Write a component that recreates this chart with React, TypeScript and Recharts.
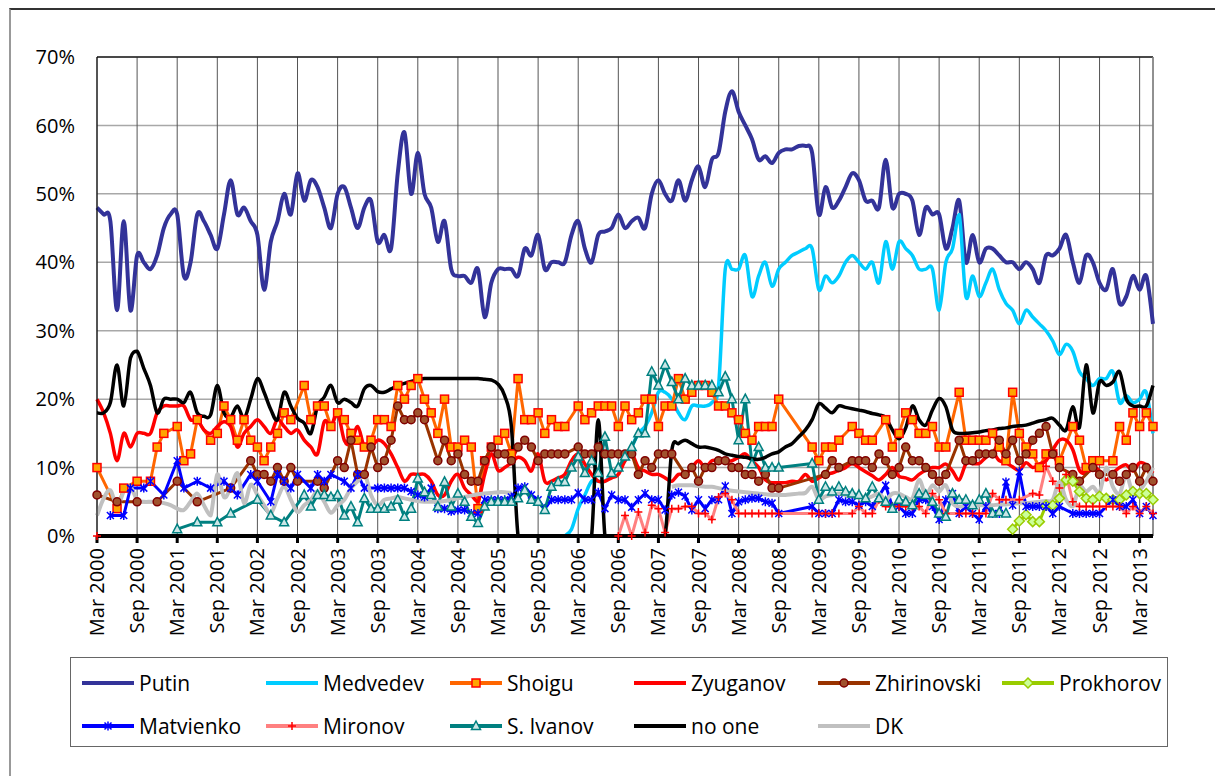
import React from 'react';
import { LineChart, Line, XAxis, YAxis, CartesianGrid, ReferenceLine } from 'recharts';

const FONT = '"Open Sans", sans-serif';
const _ = null;

// x = month index, 0 = Mar 2000 ... 158 = May 2013
const monthCount = 159;
const tickMonths = [0, 6, 12, 18, 24, 30, 36, 42, 48, 54, 60, 66, 72, 78, 84, 90, 96, 102, 108, 114, 120, 126, 132, 138, 144, 150, 156];
const tickLabels = [
  'Mar 2000', 'Sep 2000', 'Mar 2001', 'Sep 2001', 'Mar 2002', 'Sep 2002', 'Mar 2003', 'Sep 2003', 'Mar 2004',
  'Sep 2004', 'Mar 2005', 'Sep 2005', 'Mar 2006', 'Sep 2006', 'Mar 2007', 'Sep 2007', 'Mar 2008', 'Sep 2008',
  'Mar 2009', 'Sep 2009', 'Mar 2010', 'Sep 2010', 'Mar 2011', 'Sep 2011', 'Mar 2012', 'Sep 2012', 'Mar 2013',
];
const percentTicks = [0, 10, 20, 30, 40, 50, 60, 70];

// monthly series (smoothed lines)
const putin = [
  48, 47, 46, 33, 46, 33, 41, 40, 39, 41,
  45, 47, 47, 38, 40, 47, 46, 44, 42, 47,
  52, 47, 48, 46, 44, 36, 43, 46, 50, 47,
  53, 49, 52, 51, 48, 45, 50, 51, 48, 45,
  48, 49, 43, 44, 42, 53, 59, 50, 56, 50,
  48, 43, 46, 39, 38, 38, 37, 39, 32, 37,
  39, 39, 39, 38, 42, 41, 44, 39, 40, 40,
  40, 44, 46, 42, 40, 44, 44.5, 45, 47, 45,
  46, 46.5, 45, 50, 52, 50, 49, 52, 49, 52,
  54, 51, 55, 56, 62, 65, 62, 60, 58, 55,
  55.5, 54.5, 56, 56.5, 56.5, 57, 57, 56, 47, 51,
  48, 49, 51, 53, 52, 49, 49, 48, 55, 48,
  50, 50, 49, 44, 48, 47, 47, 42, 45, 49,
  40, 44, 40, 42, 42, 41, 40, 40, 39, 40,
  39, 37, 41, 41, 42, 44, 40, 37, 41, 40,
  37, 36, 39, 34, 35, 38, 36, 38, 31,
];

const medvedevStart = 70;
const medvedev = [
  0, 1, 4, 6, 8, 8, 8, 9, 10, 11,
  13, 15, 16, 18, 21, 21, 20, 18, 17, 19,
  19, 19, 19.5, 22, 39, 39, 39, 41, 35, 38,
  40, 36.5, 39, 40, 41, 41.5, 42, 42, 36, 38,
  37, 38, 40, 41, 40, 39, 40, 37, 43, 39,
  43, 42, 41, 39, 39, 39, 33, 40, 42, 47,
  35, 38, 35, 37, 39, 36, 34, 33, 31, 33,
  32, 31, 30, 28.5, 26.5, 28, 27, 24, 23, 22,
  23, 23, 24, 19.5, 20.5, 19.5, 20, 21, 15,
];

const zyuganov = [
  20, 18, 15, 11, 15, 13, 15, 15, 15, 18,
  19, 19, 19, 19, 17, 17, 15.5, 15, 16, 16.7,
  16, 13, 15, 16, 17, 16, 15, 17, 16, 15,
  15.5, 14, 13, 12, 16.7, 16, 18, 14, 13.5, 16,
  13, 13, 14, 13.5, 12, 10, 8, 9, 9, 9,
  8, 6, 6, 8, 9, 7, 6, 5, 9, 12,
  9.6, 10, 10.7, 11.5, 11, 9.5, 12, 8, 8, 8.5,
  9, 11, 12, 10.5, 9, 8, 8, 8.5, 9, 11,
  12, 10, 9.5, 9, 9, 8.5, 8, 9, 9, 10,
  11, 10, 11, 11, 11, 11, 11.5, 12, 11, 10,
  8.2, 7.8, 7.8, 7.8, 8, 8, 9, 8, 8.5, 9,
  9.2, 9.6, 10, 10.6, 10, 9.4, 8.8, 8.2, 9, 10,
  8.7, 8.5, 8.2, 9, 9.6, 10, 10, 10.5, 9.5, 8.2,
  10.5, 10.6, 10.6, 11.5, 12.2, 11, 10.7, 10.1, 9.6, 10.7,
  10, 10.5, 11, 12.6, 14, 14, 12.6, 9.6, 9.2, 10.1,
  9.5, 8.2, 9.2, 10, 10.4, 9.5, 10.7, 10.4, 9.2,
];

const noOne = [
  18, 18, 19.5, 25, 19, 26, 27, 24.5, 22, 18,
  20, 20, 20, 19.5, 21, 18, 17.5, 17.7, 22, 18,
  17.4, 19, 17.2, 20, 23, 21, 18.5, 17, 21, 19,
  17.2, 16.5, 15, 19, 20.3, 22, 19.5, 20, 19.5, 19,
  21.5, 22, 21.1, 21, 21.5, 22, 22.3, 22.6, 22.8, 23,
  23, 23, 23, 23, 23, 23, 23, 23, 22.9, 22.8,
  22.2, 20.5, 16, 0, 0, 0, 0, 0, 0, 0,
  0, 0, 0, 0, 0, 17, 0, 0, 0, 0,
  0, 0, 0, 0, 0, 0, 12.5, 13.5, 14, 13.5,
  13, 13, 12.8, 12.5, 12, 11.8, 11.6, 11.5, 11.3, 11.2,
  11.5, 12, 12.3, 13, 13.5, 14.5, 15.5, 17, 19.3, 18.7,
  18, 19, 18.8, 18.6, 18.4, 18.2, 17.9, 17.7, 17.3, 15.5,
  14.2, 15.8, 19, 17, 16.2, 18.4, 20.1, 18.9, 15.5, 15,
  15, 15.1, 15.2, 15.4, 15.5, 15.7, 15.8, 16, 16.1, 16.2,
  16.5, 16.8, 17, 17.2, 16.2, 15.5, 18.9, 15.9, 25, 18,
  22.5, 22, 22.5, 24, 20, 19, 19, 19, 22,
];

const dk = [
  3, 5.5, 6.7, 4.3, 6.5, 7.2, 5.3, 5, 5, 5,
  4.8, 4.5, 4, 3.8, 5, 6.2, 4.5, 3, 9, 5.7,
  7, 9.2, 4.8, 7.5, 6, 4.5, 3.3, 5.5, 7.2, 5.3,
  3.5, 4.5, 5.3, 6.5, 5, 3.4, 4.5, 5.3, 7, 8,
  9.2, 6, 4.5, 5.3, 5.5, 5.7, 5.5, 5.3, 5.1, 5,
  5, 5, 5.1, 5.3, 5.5, 5.7, 5.9, 6.1, 6.2, 6.3,
  6.4, 6.4, 6.3, _, _, _, _, _, _, _,
  _, _, _, _, _, _, _, _, _, _,
  _, _, _, _, _, _, 7.2, 7.4, 7.4, 7.4,
  7.3, 7.2, 7.2, 7, 6.8, 6.6, 6.5, 6.4, 6.3, 6.2,
  6.1, 6, 6, 6, 6.1, 6.2, 6.3, 7.2, 5.3, 5.8,
  6, 6.2, 6, 5.7, 6, 5.5, 5.8, 6.2, 5.3, 6.2,
  6.2, 5.7, 5.5, 8.2, 6, 7.4, 6.5, 7.4, 4.8, 4.3,
  4.4, 4.5, 4.5, 4.5, 4.5, 4.6, 4.6, 4.7, 4.8, 4.8,
  4.9, 5, 5.1, 5.3, 7.9, 5.3, 4.3, 7.2, 6.5, 7.2,
  6.4, 10, 7.2, 6.2, 8.9, 6.2, 6.7, 8, 10,
];

// polled series: [month index, %]
const shoigu: [number, number][] = [
  [0, 10], [3, 4], [4, 7], [6, 8], [8, 8], [9, 13], [10, 15], [12, 16], [13, 11], [14, 12], [15, 17], [17, 14],
  [18, 15], [19, 19], [20, 17], [21, 14], [22, 17], [23, 14], [24, 13], [25, 11], [26, 13], [27, 15], [28, 18],
  [29, 17], [31, 22], [32, 17], [33, 19], [34, 19], [35, 16], [36, 18], [37, 17], [38, 15], [39, 14], [40, 13],
  [41, 14], [42, 17], [43, 17], [44, 16], [45, 22], [46, 20], [47, 22], [48, 23], [49, 20], [50, 18], [51, 15],
  [52, 20], [53, 13], [54, 13], [55, 14], [56, 13], [57, 4], [58, 11], [59, 13], [60, 14], [61, 15], [62, 12],
  [63, 23], [64, 17], [65, 17], [66, 18], [67, 15], [68, 17], [69, 16], [70, 16], [72, 19], [73, 17], [74, 18],
  [75, 19], [76, 19], [77, 19], [78, 16], [79, 19], [80, 17], [81, 18], [82, 20], [83, 20], [84, 16], [85, 19],
  [86, 19], [87, 23], [88, 20], [89, 21], [90, 22], [91, 22], [92, 21], [93, 19], [94, 19], [95, 18], [96, 17],
  [97, 15], [98, 14], [99, 16], [100, 16], [101, 16], [102, 20], [107, 13], [108, 11], [109, 13], [110, 13],
  [111, 14], [113, 16], [114, 15], [115, 14], [116, 14], [118, 17], [119, 13], [120, 15], [121, 18], [122, 17],
  [123, 15], [124, 15], [125, 16], [126, 13], [127, 13], [129, 21], [130, 14], [131, 14], [132, 14], [133, 14],
  [134, 15], [135, 13], [136, 11], [137, 21], [138, 15], [139, 13], [140, 12], [141, 10], [142, 12], [143, 12],
  [144, 11], [146, 16], [147, 14], [148, 10], [149, 11], [150, 11], [152, 11], [153, 16], [154, 14], [155, 18],
  [156, 16], [157, 18], [158, 16],
];

const zhirinovski: [number, number][] = [
  [0, 6], [3, 5], [6, 5], [9, 5], [12, 8], [15, 5], [20, 7], [23, 11], [24, 9], [25, 9], [26, 8], [27, 10],
  [28, 8], [29, 10], [30, 8], [33, 8], [34, 7], [36, 11], [37, 10], [38, 14], [39, 9], [40, 9], [41, 13],
  [42, 10], [43, 11], [44, 14], [45, 19], [46, 17], [47, 17], [48, 18], [49, 17], [51, 11], [52, 14], [53, 11],
  [54, 12], [55, 9], [56, 8], [57, 8], [58, 11], [59, 13], [60, 12], [61, 12], [62, 11], [63, 13], [64, 14],
  [65, 13], [66, 11], [67, 12], [68, 12], [69, 12], [70, 12], [72, 13], [73, 12], [74, 12], [75, 13], [76, 12],
  [77, 12], [78, 12], [79, 12], [80, 12], [81, 9], [82, 11], [83, 10], [84, 12], [85, 12], [86, 12], [88, 9],
  [89, 10], [90, 8], [91, 10], [92, 10], [93, 11], [94, 11], [95, 10], [96, 10], [97, 9], [98, 9], [99, 8],
  [100, 9], [101, 7], [102, 7], [109, 9], [110, 11], [111, 10], [113, 11], [114, 11], [115, 11], [116, 10],
  [117, 12], [118, 11], [119, 9], [120, 10], [121, 13], [122, 11], [123, 11], [124, 10], [125, 9], [126, 8],
  [127, 9], [129, 14], [130, 11], [131, 11], [132, 12], [133, 12], [134, 12], [135, 14], [136, 12], [137, 14],
  [138, 11], [139, 12], [140, 14], [141, 15], [142, 16], [143, 12], [144, 10], [146, 9], [147, 8], [149, 10],
  [150, 9], [152, 9], [153, 8], [154, 9], [155, 10], [156, 8], [157, 10], [158, 8],
];

const prokhorov: [number, number][] = [
  [137, 1], [138, 2.2], [139, 3.1], [140, 2.1], [141, 2.1], [142, 4.5], [143, 4.5], [144, 5.5], [145, 8.2],
  [146, 8], [147, 6.5], [148, 5.5], [149, 5.3], [150, 5.8], [151, 5.5], [152, 5.3], [153, 5.3], [154, 6],
  [155, 6.5], [156, 6.2], [157, 6.2], [158, 5.3],
];

const matvienko: [number, number][] = [
  [2, 3], [4, 3], [5, 7], [7, 7], [8, 8], [10, 6], [12, 11], [13, 7], [15, 8], [17, 7], [19, 8], [20, 7],
  [21, 6], [23, 9], [24, 8], [26, 5], [27, 9], [28, 8], [29, 7], [30, 9], [32, 7], [33, 9], [34, 8], [35, 9],
  [37, 8], [38, 7], [39, 9], [40, 7], [42, 7], [43, 7], [44, 7], [45, 7], [46, 7], [47, 6.5], [48, 6],
  [49, 5.7], [50, 7], [51, 4], [52, 4], [53, 3.6], [54, 3.8], [55, 3.8], [56, 3.3], [57, 3.3], [58, 5.3],
  [59, 5.3], [60, 5.3], [61, 5.3], [62, 5.7], [63, 7], [64, 7.2], [65, 6], [66, 5.3], [67, 4], [68, 5.3],
  [69, 5.3], [70, 5.3], [71, 5.3], [72, 6.3], [73, 5.3], [74, 5.3], [75, 6.4], [76, 4], [77, 6], [78, 5.3],
  [79, 5.3], [80, 4.2], [81, 5.3], [82, 6.2], [83, 5.3], [84, 5.3], [85, 3.8], [86, 6], [87, 6.4], [88, 5.8],
  [89, 3.8], [90, 5.3], [91, 4], [92, 5.3], [93, 5.3], [94, 7.3], [95, 3.3], [96, 5], [97, 5.3], [98, 5.5],
  [99, 5.5], [100, 5], [101, 4.8], [102, 3.3], [107, 4.3], [108, 3.3], [109, 3.3], [110, 3.3], [111, 5.3],
  [112, 5], [113, 5], [114, 4.5], [115, 5], [116, 4.3], [118, 7.4], [119, 4.3], [120, 4.3], [121, 3.3],
  [122, 3.3], [123, 5.3], [124, 5.3], [125, 4.3], [126, 2.4], [127, 5.3], [128, 6.2], [129, 3.3], [130, 4.3],
  [131, 3.3], [132, 2.4], [133, 4.3], [134, 3.3], [135, 3.3], [136, 7.9], [137, 4.5], [138, 9.4], [139, 4.3],
  [140, 4.3], [141, 4.3], [142, 4.3], [143, 3.3], [144, 4.3], [146, 3.3], [147, 3.3], [148, 3.3], [149, 3.3],
  [150, 3.3], [152, 5.3], [153, 4.3], [154, 4.3], [155, 5.3], [156, 3.3], [157, 4.3], [158, 3],
];

const mironovEarly: [number, number][] = [[0, 0]];
const mironov: [number, number][] = [
  [78, 0], [79, 3], [80, 0], [81, 3.5], [82, 0.5], [83, 4.5], [84, 4], [85, 0.5], [86, 4], [87, 4], [88, 4.3],
  [89, 4.3], [90, 3.3], [91, 3.3], [92, 2.4], [93, 5.7], [94, 6.2], [95, 5.3], [96, 3.3], [97, 3.3], [98, 3.3],
  [99, 3.3], [100, 3.3], [101, 3.3], [102, 3.3], [107, 3.3], [108, 3.3], [109, 3.3], [110, 3.3], [111, 3.3],
  [113, 3.3], [114, 4.3], [115, 3.3], [116, 3.3], [117, 5.3], [118, 4.3], [119, 4.3], [120, 4.3], [121, 4.3],
  [122, 4.3], [123, 4.3], [124, 3.3], [125, 6.2], [126, 5.3], [127, 3.3], [129, 3.3], [130, 3.3], [131, 3.3],
  [132, 3.3], [133, 3.3], [134, 6.2], [135, 5.3], [136, 5.3], [138, 5.3], [140, 6.2], [141, 6], [142, 10.2],
  [143, 8], [144, 7], [145, 9], [146, 5], [147, 4.3], [148, 4.3], [149, 4.3], [150, 4.3], [151, 4.3], [152, 4.3],
  [153, 4.3], [154, 3.3], [155, 4.3], [156, 3.3], [157, 4.3], [158, 3.3],
];

const sIvanov: [number, number][] = [
  [12, 1], [15, 2], [18, 2], [20, 3.3], [24, 5.3], [26, 3], [28, 2], [31, 6], [32, 4.3], [33, 6], [34, 6],
  [35, 5.7], [36, 6], [37, 3], [38, 4.3], [39, 2], [40, 5.5], [41, 4], [42, 4], [43, 4], [44, 4.3], [45, 5.3],
  [46, 2.8], [47, 4], [48, 8.4], [49, 6.4], [50, 6], [51, 4.3], [52, 7.9], [53, 4.3], [54, 6.2], [55, 5],
  [56, 2.8], [57, 1.9], [58, 4.3], [59, 5], [60, 5], [61, 5], [62, 5], [63, 5.5], [64, 6.7], [65, 5.3], [66, 5],
  [67, 3.8], [68, 7.2], [69, 7.9], [70, 7.9], [71, 10], [72, 11.6], [73, 9.2], [74, 11], [75, 9.2], [76, 14.5],
  [77, 9.2], [78, 10], [79, 11.6], [80, 13], [81, 15], [82, 15], [83, 24], [84, 22], [85, 25], [86, 22.5],
  [87, 20], [88, 23], [89, 22], [90, 22], [91, 22], [92, 22], [93, 21], [94, 23.3], [95, 20], [96, 14], [97, 20],
  [98, 10.5], [99, 13], [100, 10], [101, 10], [102, 10], [107, 10.6], [108, 5.3], [109, 7.2], [110, 6.5],
  [111, 7.2], [112, 6.5], [113, 6.2], [114, 6], [115, 5.5], [116, 7.2], [117, 5.5], [118, 5], [119, 4],
  [120, 5.3], [121, 5], [122, 4.5], [123, 6.2], [124, 6], [125, 5], [126, 3.3], [127, 2.8], [128, 6.2],
  [129, 5.3], [130, 5.3], [131, 4.5], [132, 5.3], [133, 6.2], [134, 3.3], [135, 3.5], [136, 3.3],
];

// Excel-style smoothed line (Catmull-Rom through the points),
// control points kept inside the series' own vertical range so it never dips under the axis
const excelSmooth: any = (context: any) => {
  let pts: number[][] = [];
  return {
    areaStart() {},
    areaEnd() {},
    lineStart() { pts = []; },
    point(x: number, y: number) { pts.push([+x, +y]); },
    lineEnd() {
      const n = pts.length;
      if (!n) return;
      const ys = pts.map((p) => p[1]);
      const lo = Math.min(...ys);
      const hi = Math.max(...ys);
      const cy = (v: number) => Math.min(hi, Math.max(lo, v));
      context.moveTo(pts[0][0], pts[0][1]);
      if (n === 1) { context.lineTo(pts[0][0], pts[0][1]); return; }
      for (let i = 0; i < n - 1; i++) {
        const p0 = pts[i > 0 ? i - 1 : i];
        const p1 = pts[i];
        const p2 = pts[i + 1];
        const p3 = pts[i + 2 < n ? i + 2 : i + 1];
        context.bezierCurveTo(
          p1[0] + (p2[0] - p0[0]) / 6, cy(p1[1] + (p2[1] - p0[1]) / 6),
          p2[0] - (p3[0] - p1[0]) / 6, cy(p2[1] - (p3[1] - p1[1]) / 6),
          p2[0], p2[1],
        );
      }
    },
  };
};

type Mark = (cx: number, cy: number) => React.ReactElement;

const squareMark: Mark = (cx, cy) => (
  <rect x={cx - 4} y={cy - 4} width={8} height={8} fill="#FFA500" stroke="#FF0000" strokeWidth={1.5} />
);
const circleMark: Mark = (cx, cy) => (
  <circle cx={cx} cy={cy} r={4} fill="#A0522D" stroke="#800000" strokeWidth={1.5} />
);
const diamondMark: Mark = (cx, cy) => (
  <path d={`M${cx} ${cy - 5}L${cx + 5} ${cy}L${cx} ${cy + 5}L${cx - 5} ${cy}Z`} fill="#CCFF99" stroke="#99CC00" strokeWidth={1.5} />
);
const starMark: Mark = (cx, cy) => (
  <path
    d={`M${cx - 3.5} ${cy - 3.5}L${cx + 3.5} ${cy + 3.5}M${cx - 3.5} ${cy + 3.5}L${cx + 3.5} ${cy - 3.5}M${cx} ${cy - 4.5}L${cx} ${cy + 4.5}`}
    stroke="#0000FF" strokeWidth={1.5} fill="none"
  />
);
const plusMark: Mark = (cx, cy) => (
  <path d={`M${cx - 4} ${cy}L${cx + 4} ${cy}M${cx} ${cy - 4}L${cx} ${cy + 4}`} stroke="#FF0000" strokeWidth={1.5} fill="none" />
);
const triangleMark: Mark = (cx, cy) => (
  <path d={`M${cx} ${cy - 5}L${cx + 4.5} ${cy + 3.5}L${cx - 4.5} ${cy + 3.5}Z`} fill="#CCE6E6" stroke="#008080" strokeWidth={1.5} />
);

const dense = (vals: (number | null)[], start = 0) => (m: number) =>
  m >= start && m - start < vals.length ? vals[m - start] : null;
const sparse = (pairs: [number, number][]) => {
  const map = new Map(pairs);
  return (m: number) => (map.has(m) ? (map.get(m) as number) : null);
};

interface Series {
  key: string;
  name: string;
  color: string;
  width: number;
  smooth: boolean;
  connect: boolean;
  mark?: Mark;
  get: (m: number) => number | null;
}

const series: Series[] = [
  { key: 'putin', name: 'Putin', color: '#333399', width: 4, smooth: true, connect: true, get: dense(putin) },
  { key: 'medvedev', name: 'Medvedev', color: '#00CCFF', width: 3.5, smooth: true, connect: true, get: dense(medvedev, medvedevStart) },
  { key: 'shoigu', name: 'Shoigu', color: '#FF6600', width: 3, smooth: false, connect: true, mark: squareMark, get: sparse(shoigu) },
  { key: 'zyuganov', name: 'Zyuganov', color: '#FF0000', width: 3.5, smooth: true, connect: true, get: dense(zyuganov) },
  { key: 'zhirinovski', name: 'Zhirinovski', color: '#993300', width: 3, smooth: false, connect: true, mark: circleMark, get: sparse(zhirinovski) },
  { key: 'prokhorov', name: 'Prokhorov', color: '#99CC00', width: 3, smooth: false, connect: true, mark: diamondMark, get: sparse(prokhorov) },
  { key: 'matvienko', name: 'Matvienko', color: '#0000FF', width: 3, smooth: false, connect: true, mark: starMark, get: sparse(matvienko) },
  { key: 'mironov', name: 'Mironov', color: '#FF8080', width: 3, smooth: false, connect: true, mark: plusMark, get: sparse(mironov) },
  { key: 'sIvanov', name: 'S. Ivanov', color: '#008080', width: 3, smooth: false, connect: true, mark: triangleMark, get: sparse(sIvanov) },
  { key: 'noOne', name: 'no one', color: '#000000', width: 3.5, smooth: true, connect: true, get: dense(noOne) },
  { key: 'dk', name: 'DK', color: '#C0C0C0', width: 4, smooth: true, connect: false, get: dense(dk) },
];

const mironovEarlyAt = sparse(mironovEarly);

const rows = Array.from({ length: monthCount }, (_v, m) => {
  const row: Record<string, number | null> = { m };
  series.forEach((s) => { row[s.key] = s.get(m); });
  row.mironovEarly = mironovEarlyAt(m);
  return row;
});

const dotFor = (mark?: Mark) => {
  if (!mark) return false;
  return (p: any) => {
    const k = p.key ?? `dot-${p.index}`;
    if (p.value == null || p.cy == null || Number.isNaN(p.cy)) return <g key={k} />;
    return <g key={k}>{mark(p.cx, p.cy)}</g>;
  };
};

const MonthTick = ({ x, y, payload }: any) => {
  const label = tickLabels[tickMonths.indexOf(payload.value)] ?? '';
  return (
    <text
      x={x}
      y={y}
      transform={`rotate(-90, ${x}, ${y})`}
      textAnchor="end"
      dy="0.35em"
      fontSize={20}
      fontFamily={FONT}
      fill="#000"
    >
      {label}
    </text>
  );
};

function LegendBox() {
  return (
    <div
      style={{
        position: 'absolute',
        left: 70,
        top: 657,
        width: 1098,
        height: 90,
        border: '1.5px solid #666',
        boxSizing: 'border-box',
      }}
    >
      {series.map((s, i) => {
        const col = i < 6 ? i : i - 6;
        const row = i < 6 ? 0 : 1;
        return (
          <div
            key={s.key}
            style={{
              position: 'absolute',
              left: 11 + col * 184,
              top: (row === 0 ? 25 : 68) - 13,
              height: 26,
              display: 'flex',
              alignItems: 'center',
              whiteSpace: 'nowrap',
            }}
          >
            <svg width={52} height={16} style={{ display: 'block' }}>
              <line x1={0} y1={8} x2={52} y2={8} stroke={s.color} strokeWidth={4} />
              {s.mark ? s.mark(26, 8) : null}
            </svg>
            <span style={{ marginLeft: 5, fontFamily: FONT, fontSize: 21, color: '#000', lineHeight: '26px' }}>
              {s.name}
            </span>
          </div>
        );
      })}
    </div>
  );
}

export default function App() {
  return (
    <div style={{ position: 'absolute', left: 0, top: 0, width: 1215, height: 776, overflow: 'hidden', background: '#fff' }}>
      <div
        style={{
          position: 'absolute',
          left: 9,
          top: 8,
          width: 1206,
          height: 768,
          borderTop: '2px solid #333',
          borderLeft: '2px solid #999',
          boxSizing: 'border-box',
        }}
      />
      <div style={{ position: 'absolute', left: 0, top: 0 }}>
        <LineChart width={1215} height={776} data={rows} margin={{ top: 57, right: 62, bottom: 130, left: 0 }}>
          <CartesianGrid vertical={false} stroke="#a8a8a8" strokeWidth={1.5} />
          <CartesianGrid horizontal={false} stroke="#555" strokeWidth={1} />
          <XAxis
            dataKey="m"
            type="number"
            domain={[0, monthCount - 1]}
            ticks={tickMonths}
            interval={0}
            height={110}
            axisLine={{ stroke: '#000', strokeWidth: 4 }}
            tickLine={{ stroke: '#000', strokeWidth: 3 }}
            tickSize={7}
            tickMargin={5}
            tick={<MonthTick />}
          />
          <YAxis
            type="number"
            domain={[0, 70]}
            ticks={percentTicks}
            interval={0}
            width={97}
            axisLine={{ stroke: '#000', strokeWidth: 1 }}
            tickLine={false}
            tickSize={0}
            tickMargin={22}
            tickFormatter={(v: number) => `${v}%`}
            tick={{ fontSize: 20, fill: '#000', fontFamily: FONT }}
          />
          <ReferenceLine y={70} stroke="#222" strokeWidth={1.5} />
          <ReferenceLine x={monthCount - 1} stroke="#888" strokeWidth={1.5} />
          {series.map((s) => (
            <Line
              key={s.key}
              dataKey={s.key}
              name={s.name}
              type={s.smooth ? excelSmooth : 'linear'}
              stroke={s.color}
              strokeWidth={s.width}
              strokeLinejoin="round"
              connectNulls={s.connect}
              dot={dotFor(s.mark) as any}
              activeDot={false}
              isAnimationActive={false}
            />
          ))}
          <Line
            dataKey="mironovEarly"
            name="Mironov"
            type="linear"
            stroke="none"
            legendType="none"
            dot={dotFor(plusMark) as any}
            activeDot={false}
            isAnimationActive={false}
          />
        </LineChart>
      </div>
      <LegendBox />
    </div>
  );
}
